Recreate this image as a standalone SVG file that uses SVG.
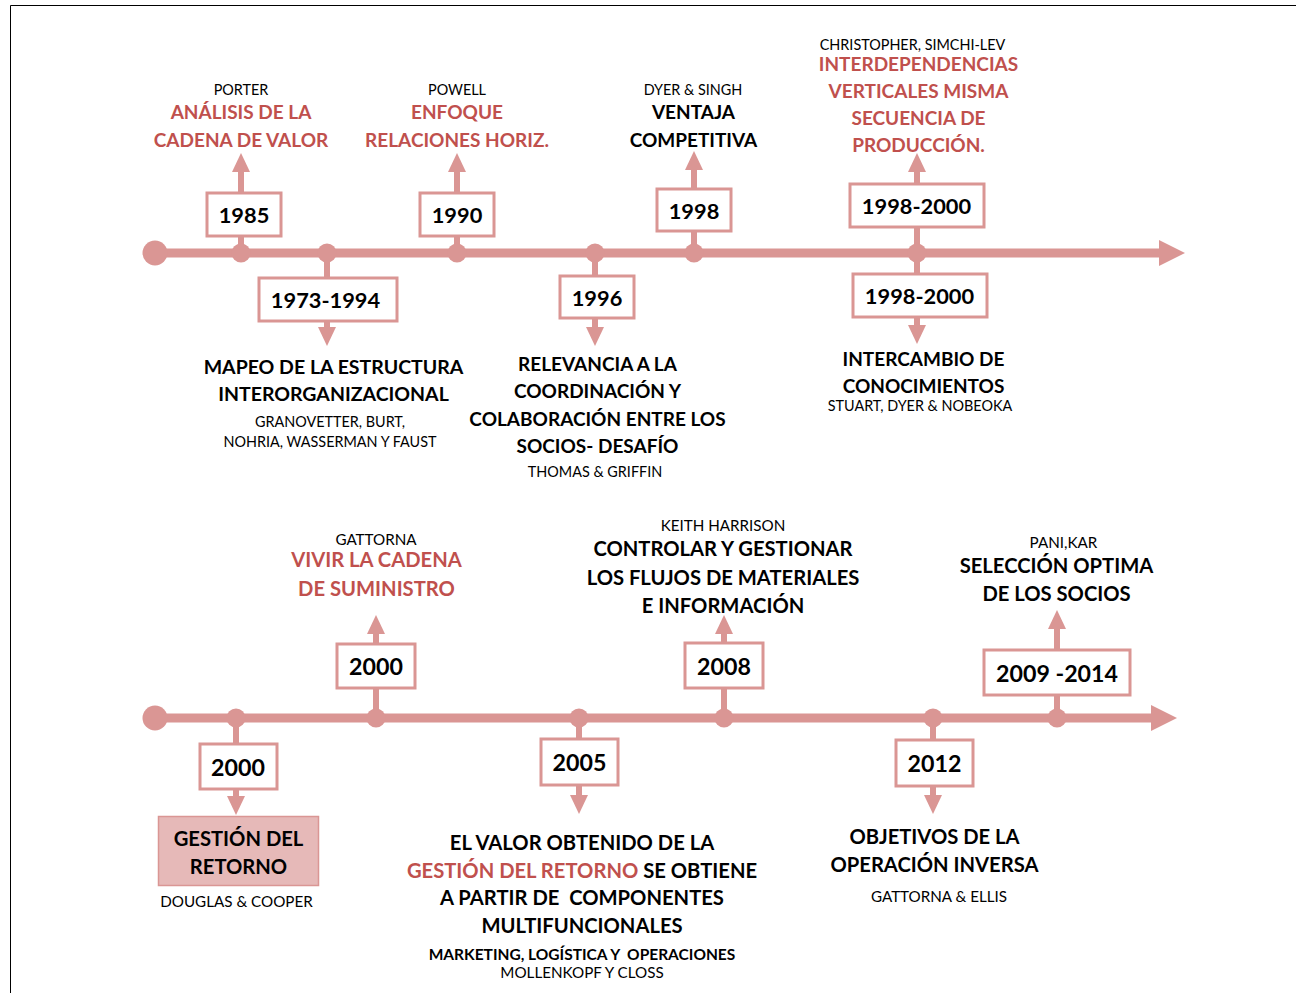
<svg xmlns="http://www.w3.org/2000/svg" width="1296" height="993" viewBox="0 0 1296 993">
  <style>
    .axis { stroke: #DA9694; stroke-width: 9; fill: none; }
    .stem { stroke: #DA9694; stroke-width: 6; fill: none; }
    .dot { fill: #DA9694; }
    .box { fill: #FFFFFF; stroke: #DA9694; stroke-width: 3; }
    .hl { fill: #E6B9B8; stroke: #DA9694; stroke-width: 1.5; }
    text { font-family: Lato, "Liberation Sans", sans-serif; text-anchor: middle; fill: #000000; }
    .yr { font-size: 21.8px; font-weight: 700; }
    .yr2 { font-size: 23.2px; font-weight: 700; }
    .t { font-size: 19px; font-weight: 700; }
    .t2 { font-size: 20.2px; font-weight: 700; }
    .r { fill: #C0504D; }
    .a { font-size: 14.4px; font-weight: 400; }
    .a2 { font-size: 15.2px; font-weight: 400; }
    .s { font-size: 15.5px; font-weight: 700; }
  </style>
  <defs>
    <marker id="head" markerUnits="userSpaceOnUse" markerWidth="19" markerHeight="18" refX="0" refY="9" orient="auto">
      <path d="M0,0 L19,9 L0,18 Z" fill="#DA9694"/>
    </marker>
    <marker id="bighead" markerUnits="userSpaceOnUse" markerWidth="26" markerHeight="26" refX="0" refY="13" orient="auto">
      <path d="M0,0 L26,13 L0,26 Z" fill="#DA9694"/>
    </marker>
  </defs>

  <!-- page frame -->
  <path d="M10.5,993 V5.5 H1296" fill="none" stroke="#000000" stroke-width="1"/>

  <g id="connectors">
    <!-- upper time axis -->
    <line class="axis" x1="155" y1="253" x2="1159" y2="253" marker-end="url(#bighead)"/>
    <circle class="dot" cx="155" cy="253" r="12.5"/>
    <line class="stem" x1="241" y1="253" x2="241" y2="172" marker-end="url(#head)"/>
    <line class="stem" x1="327" y1="253" x2="327" y2="327" marker-end="url(#head)"/>
    <line class="stem" x1="457" y1="253" x2="457" y2="172" marker-end="url(#head)"/>
    <line class="stem" x1="595" y1="253" x2="595" y2="327" marker-end="url(#head)"/>
    <line class="stem" x1="694" y1="253" x2="694" y2="170" marker-end="url(#head)"/>
    <line class="stem" x1="917" y1="253" x2="917" y2="172" marker-end="url(#head)"/>
    <line class="stem" x1="917" y1="253" x2="917" y2="325" marker-end="url(#head)"/>
    <circle class="dot" cx="241" cy="253" r="9.5"/>
    <circle class="dot" cx="327" cy="253" r="9.5"/>
    <circle class="dot" cx="457" cy="253" r="9.5"/>
    <circle class="dot" cx="595" cy="253" r="9.5"/>
    <circle class="dot" cx="694" cy="253" r="9.5"/>
    <circle class="dot" cx="917" cy="253" r="9.5"/>

    <!-- lower time axis -->
    <line class="axis" x1="155" y1="718" x2="1151" y2="718" marker-end="url(#bighead)"/>
    <circle class="dot" cx="155" cy="718" r="12.5"/>
    <line class="stem" x1="236" y1="718" x2="236" y2="796" marker-end="url(#head)"/>
    <line class="stem" x1="376" y1="718" x2="376" y2="634" marker-end="url(#head)"/>
    <line class="stem" x1="579" y1="718" x2="579" y2="795" marker-end="url(#head)"/>
    <line class="stem" x1="724" y1="718" x2="724" y2="634" marker-end="url(#head)"/>
    <line class="stem" x1="933" y1="718" x2="933" y2="795" marker-end="url(#head)"/>
    <line class="stem" x1="1057" y1="718" x2="1057" y2="629" marker-end="url(#head)"/>
    <circle class="dot" cx="236" cy="718" r="9.5"/>
    <circle class="dot" cx="376" cy="718" r="9.5"/>
    <circle class="dot" cx="579" cy="718" r="9.5"/>
    <circle class="dot" cx="724" cy="718" r="9.5"/>
    <circle class="dot" cx="933" cy="718" r="9.5"/>
    <circle class="dot" cx="1057" cy="718" r="9.5"/>
  </g>

  <!-- upper timeline events -->
  <g id="ev-1985">
    <rect class="box" x="207" y="193" width="74" height="43"/>
    <text class="yr" x="244" y="222.5">1985</text>
    <text class="a" x="241" y="95">PORTER</text>
    <text class="t r" x="241" y="119">ANÁLISIS DE LA</text>
    <text class="t r" x="241" y="147">CADENA DE VALOR</text>
  </g>

  <g id="ev-1973-1994">
    <rect class="box" x="259" y="278" width="138" height="43"/>
    <text class="yr" x="325.5" y="308">1973-1994</text>
    <text class="t" x="333.5" y="374" style="font-size:19.5px">MAPEO DE LA ESTRUCTURA</text>
    <text class="t" x="333.5" y="401" style="font-size:19.5px">INTERORGANIZACIONAL</text>
    <text class="a" x="330" y="427">GRANOVETTER, BURT,</text>
    <text class="a" x="330" y="447">NOHRIA, WASSERMAN Y FAUST</text>
  </g>

  <g id="ev-1990">
    <rect class="box" x="420" y="193" width="74" height="43"/>
    <text class="yr" x="457" y="222.5">1990</text>
    <text class="a" x="457" y="95">POWELL</text>
    <text class="t r" x="457" y="119">ENFOQUE</text>
    <text class="t r" x="457" y="147">RELACIONES HORIZ.</text>
  </g>

  <g id="ev-1996">
    <rect class="box" x="560" y="276" width="74" height="42"/>
    <text class="yr" x="597" y="305.5">1996</text>
    <text class="t" x="597.5" y="371">RELEVANCIA A LA</text>
    <text class="t" x="597.5" y="398">COORDINACIÓN Y</text>
    <text class="t" x="597.5" y="426">COLABORACIÓN ENTRE LOS</text>
    <text class="t" x="597.5" y="453">SOCIOS- DESAFÍO</text>
    <text class="a" x="595" y="477">THOMAS &amp; GRIFFIN</text>
  </g>

  <g id="ev-1998">
    <rect class="box" x="657" y="189" width="74" height="42"/>
    <text class="yr" x="694" y="218.5">1998</text>
    <text class="a" x="693" y="95">DYER &amp; SINGH</text>
    <text class="t" x="693.5" y="119">VENTAJA</text>
    <text class="t" x="693.5" y="147">COMPETITIVA</text>
  </g>

  <g id="ev-1998-2000-up">
    <rect class="box" x="850" y="184" width="134" height="43"/>
    <text class="yr" x="916.5" y="214">1998-2000</text>
    <text class="a" x="912.5" y="49.5">CHRISTOPHER, SIMCHI-LEV</text>
    <text class="t r" x="918.5" y="71">INTERDEPENDENCIAS</text>
    <text class="t r" x="918.5" y="98">VERTICALES MISMA</text>
    <text class="t r" x="918.5" y="125">SECUENCIA DE</text>
    <text class="t r" x="918.5" y="152">PRODUCCIÓN.</text>
  </g>

  <g id="ev-1998-2000-down">
    <rect class="box" x="853" y="274" width="134" height="43"/>
    <text class="yr" x="919.5" y="304">1998-2000</text>
    <text class="t" x="923.5" y="366">INTERCAMBIO DE</text>
    <text class="t" x="923.5" y="393">CONOCIMIENTOS</text>
    <text class="a" x="920" y="411">STUART, DYER &amp; NOBEOKA</text>
  </g>

  <!-- lower timeline events -->
  <g id="ev-2000-retorno">
    <rect class="box" x="200" y="744" width="77" height="45"/>
    <text class="yr2" x="238" y="775.5">2000</text>
    <rect class="hl" x="158.5" y="816.5" width="160" height="69"/>
    <text class="t2" x="238.5" y="846">GESTIÓN DEL</text>
    <text class="t2" x="238.5" y="874">RETORNO</text>
    <text class="a2" x="236.5" y="907">DOUGLAS &amp; COOPER</text>
  </g>

  <g id="ev-2000-gattorna">
    <rect class="box" x="337" y="644" width="78" height="44"/>
    <text class="yr2" x="376" y="675">2000</text>
    <text class="a2" x="376" y="545">GATTORNA</text>
    <text class="t2 r" x="376.5" y="567">VIVIR LA CADENA</text>
    <text class="t2 r" x="376.5" y="596">DE SUMINISTRO</text>
  </g>

  <g id="ev-2005">
    <rect class="box" x="541" y="739" width="77" height="46"/>
    <text class="yr2" x="579.5" y="771">2005</text>
    <text class="t2" x="582" y="850">EL VALOR OBTENIDO DE LA</text>
    <text class="t2" x="582" y="878"><tspan class="r">GESTIÓN DEL RETORNO</tspan> SE OBTIENE</text>
    <text class="t2" x="582" y="905" xml:space="preserve">A PARTIR DE  COMPONENTES</text>
    <text class="t2" x="582" y="933">MULTIFUNCIONALES</text>
    <text class="s" x="582" y="959.5" xml:space="preserve">MARKETING, LOGÍSTICA Y  OPERACIONES</text>
    <text class="a2" x="582" y="977.5">MOLLENKOPF Y CLOSS</text>
  </g>

  <g id="ev-2008">
    <rect class="box" x="685" y="643" width="78" height="45"/>
    <text class="yr2" x="724" y="674.5">2008</text>
    <text class="a2" x="723" y="531">KEITH HARRISON</text>
    <text class="t2" x="723" y="556">CONTROLAR Y GESTIONAR</text>
    <text class="t2" x="723" y="585">LOS FLUJOS DE MATERIALES</text>
    <text class="t2" x="723" y="613">E INFORMACIÓN</text>
  </g>

  <g id="ev-2012">
    <rect class="box" x="896" y="740" width="77" height="46"/>
    <text class="yr2" x="934.5" y="772">2012</text>
    <text class="t2" x="934.5" y="843.5">OBJETIVOS DE LA</text>
    <text class="t2" x="934.5" y="872">OPERACIÓN INVERSA</text>
    <text class="a2" x="939" y="902">GATTORNA &amp; ELLIS</text>
  </g>

  <g id="ev-2009-2014">
    <rect class="box" x="984" y="650" width="146" height="45"/>
    <text class="yr2" x="1057" y="681.5">2009 -2014</text>
    <text class="a2" x="1063.5" y="547.5">PANI,KAR</text>
    <text class="t2" x="1056.5" y="573">SELECCIÓN OPTIMA</text>
    <text class="t2" x="1056.5" y="601">DE LOS SOCIOS</text>
  </g>
</svg>
